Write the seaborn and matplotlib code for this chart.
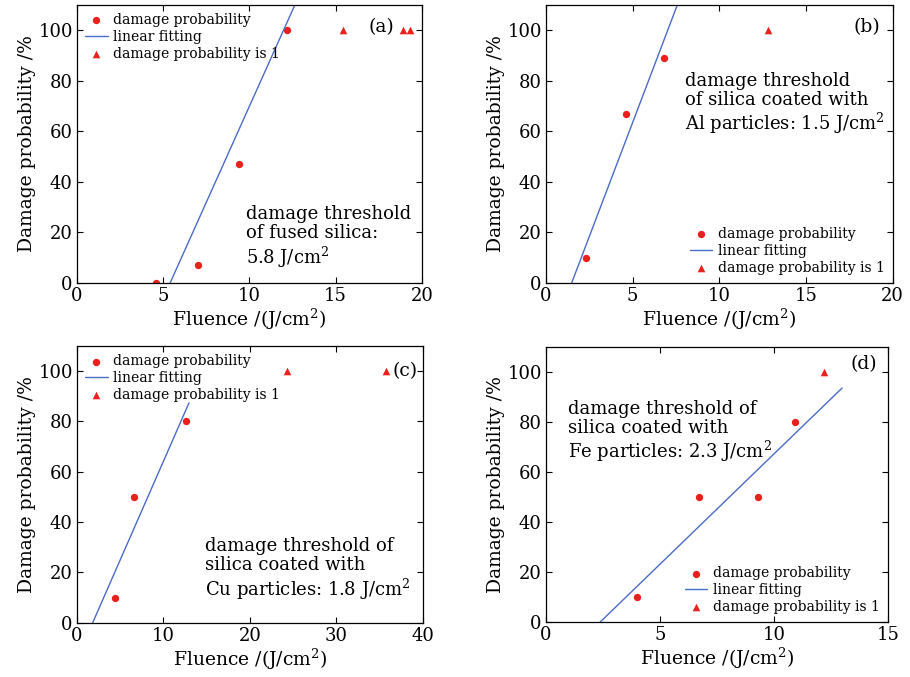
import numpy as np
import pandas as pd
import seaborn as sns
import matplotlib
matplotlib.use("Agg")
import matplotlib.pyplot as plt

# panel (a): fused silica
a_dot_x = [4.6, 7.0, 9.4, 12.2]
a_dot_y = [0, 7, 47, 100]
a_tri_x = [15.4, 18.9, 19.3]
a_tri_y = [100, 100, 100]
a_fit_x = [5.4, 12.64]
a_fit_y = [0, 110]

# panel (b): Al particles
b_dot_x = [2.3, 4.6, 6.8]
b_dot_y = [10, 67, 89]
b_tri_x = [12.8]
b_tri_y = [100]
b_fit_x = [1.48, 7.58]
b_fit_y = [0, 110]

# panel (c): Cu particles
c_dot_x = [4.4, 6.6, 12.6]
c_dot_y = [10, 50, 80]
c_tri_x = [24.3, 35.8]
c_tri_y = [100, 100]
c_fit_x = [1.81, 12.96]
c_fit_y = [0, 87.4]

# panel (d): Fe particles
d_dot_x = [4.0, 6.7, 9.3, 10.9]
d_dot_y = [10, 50, 50, 80]
d_tri_x = [12.2]
d_tri_y = [100]
d_fit_x = [2.37, 12.98]
d_fit_y = [0, 93.7]

x_ticks = [[0, 5, 10, 15, 20], [0, 5, 10, 15, 20],
           [0, 10, 20, 30, 40], [0, 5, 10, 15]]
y_ticks = [0, 20, 40, 60, 80, 100]
tags = ["(a)", "(b)", "(c)", "(d)"]
notes = [
    "damage threshold\nof fused silica:\n5.8 J/cm$^2$",
    "damage threshold\nof silica coated with\nAl particles: 1.5 J/cm$^2$",
    "damage threshold of\nsilica coated with\nCu particles: 1.8 J/cm$^2$",
    "damage threshold of\nsilica coated with\nFe particles: 2.3 J/cm$^2$",
]

sns.set_style("ticks")
plt.rcParams["font.family"] = ["DejaVu Serif"]
plt.rcParams["mathtext.fontset"] = "dejavuserif"
plt.rcParams["text.color"] = "black"
plt.rcParams["axes.labelcolor"] = "black"
plt.rcParams["xtick.color"] = "black"
plt.rcParams["ytick.color"] = "black"

fig = plt.figure(figsize=(9.1, 6.77), dpi=100)
rects = [
    [0.0846, 0.582, 0.379, 0.411],
    [0.600, 0.582, 0.381, 0.411],
    [0.0846, 0.080, 0.380, 0.409],
    [0.600, 0.081, 0.376, 0.406],
]
tag_pos = [(0.884, 0.92), (0.925, 0.92), (0.95, 0.91), (0.93, 0.94)]
note_pos = [(0.49, 0.28), (0.40, 0.76), (0.37, 0.31), (0.065, 0.81)]
legend_loc = ["upper left", "lower right", "upper left", "lower right"]

panels = [
    (a_dot_x, a_dot_y, a_tri_x, a_tri_y, a_fit_x, a_fit_y),
    (b_dot_x, b_dot_y, b_tri_x, b_tri_y, b_fit_x, b_fit_y),
    (c_dot_x, c_dot_y, c_tri_x, c_tri_y, c_fit_x, c_fit_y),
    (d_dot_x, d_dot_y, d_tri_x, d_tri_y, d_fit_x, d_fit_y),
]

red = "#e8211d"
blue = "#4a6cc4"

for i, (dx, dy, tx, ty, fx, fy) in enumerate(panels):
    ax = fig.add_axes(rects[i])
    sns.scatterplot(x=dx, y=dy, ax=ax, color=red, marker="o", s=28,
                    linewidth=0, label="damage probability")
    sns.lineplot(x=fx, y=fy, ax=ax, color=blue, linewidth=1.0,
                 label="linear fitting")
    sns.scatterplot(x=tx, y=ty, ax=ax, color=red, marker="^", s=30,
                    linewidth=0, label="damage probability is 1")

    ax.set_xlim(0, x_ticks[i][-1])
    ax.set_ylim(0, 110)
    ax.set_xticks(x_ticks[i])
    ax.set_yticks(y_ticks)
    ax.tick_params(direction="in", top=True, right=True, length=4,
                   labelsize=13, width=0.8, pad=3)
    for sp in ax.spines.values():
        sp.set_linewidth(0.9)
        sp.set_color("black")
    ax.set_xlabel("Fluence /(J/cm$^2$)", fontsize=13.5, labelpad=1)
    ax.set_ylabel("Damage probability /%", fontsize=13.5, labelpad=2)

    ax.text(tag_pos[i][0], tag_pos[i][1], tags[i], transform=ax.transAxes,
            fontsize=13.5, ha="center", va="center")
    ax.text(note_pos[i][0], note_pos[i][1], notes[i], transform=ax.transAxes,
            fontsize=13, ha="left", va="top", linespacing=1.1)

    ax.legend(loc=legend_loc[i], frameon=False, fontsize=10,
              handlelength=1.6, handletextpad=0.4, labelspacing=0.2,
              borderaxespad=0.2)

fig.savefig("out.png", dpi=100)
